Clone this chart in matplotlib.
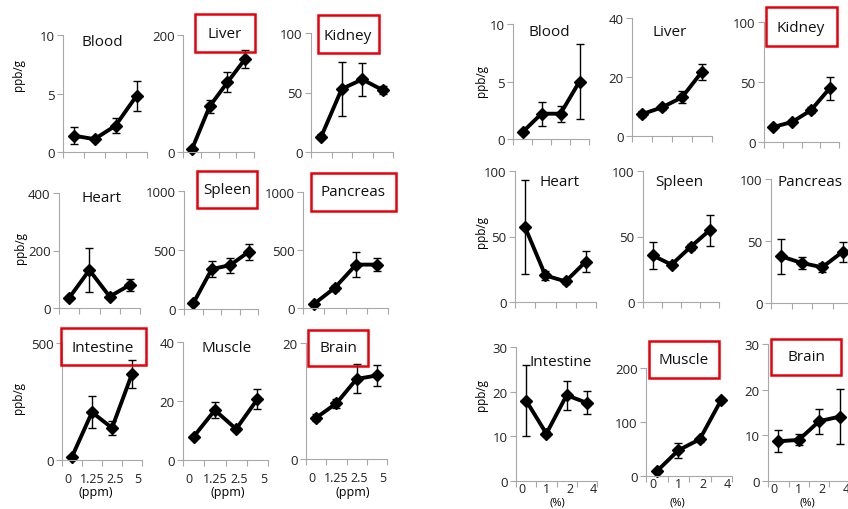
import matplotlib.pyplot as plt
from matplotlib.patches import Rectangle

plt.rcParams['font.family'] = ['Open Sans', 'DejaVu Sans']

W, H = 848, 510

organs = ['Blood', 'Liver', 'Kidney', 'Heart', 'Spleen', 'Pancreas', 'Intestine', 'Muscle', 'Brain']
ppm_labels = ['0', '1.25', '2.5', '5']
pct_labels = ['0', '1', '2', '4']

# left set (ppm)
ppm_mean = [[1.4, 1.1, 2.25, 4.8], [4.5, 78, 119, 159], [13, 53, 61, 52],
            [35, 132, 40, 80], [48, 338, 372, 485], [32, 175, 374, 374],
            [14, 204, 137, 368], [7.9, 16.9, 10.5, 20.6], [7.1, 9.6, 13.8, 14.4]]
ppm_err = [[0.7, 0.15, 0.65, 1.3], [2, 11, 17, 15], [2, 23, 14, 3.5],
           [8, 75, 6, 22], [10, 65, 63, 66], [8, 25, 110, 58],
           [3, 68, 30, 60], [0.5, 2.6, 0.8, 3.4], [0.6, 0.8, 2.5, 1.8]]
ppm_yticks = [[0, 5, 10], [0, 200], [0, 50, 100], [0, 200, 400], [0, 500, 1000],
              [0, 500, 1000], [0, 500], [0, 20, 40], [0, 20]]

# right set (%)
pct_mean = [[0.6, 2.2, 2.2, 5.0], [7.4, 9.7, 13.1, 21.8], [12.5, 16.7, 26.4, 44.7],
            [57, 20.3, 15.7, 30.9], [35.6, 28.5, 42, 54.7], [37.6, 32.3, 28.8, 41.4],
            [18, 10.6, 19.2, 17.5], [8.6, 47.5, 68, 141], [8.7, 9.0, 13.1, 14.1]]
pct_err = [[0.2, 1.05, 0.7, 3.3], [1, 0.8, 2, 2.7], [2, 1.5, 2.5, 9.7],
           [36, 3.4, 2, 8], [10.5, 2, 2.5, 12], [14, 4.5, 3.5, 8],
           [8, 0.5, 3.2, 2.6], [2, 14, 5, 3], [2.4, 1.2, 2.7, 6]]
pct_yticks = [[0, 5, 10], [0, 20, 40], [0, 50, 100], [0, 50, 100], [0, 50, 100],
              [0, 50, 100], [0, 10, 20, 30], [0, 100, 200], [0, 10, 20, 30]]

# panel boxes in pixels: x0, x1, y of top tick, y of zero
ppm_boxes = [(63, 147, 36, 153), (183, 254, 36, 153), (311, 393, 34, 153),
             (59, 140, 194, 309), (184, 258, 192, 310), (303, 388, 193, 309),
             (62, 142, 344, 461), (183, 268, 343, 461), (306, 387, 344, 460)]
pct_boxes = [(513, 589, 25, 140), (632, 712, 19, 137), (764, 839, 23, 143),
             (515, 596, 172, 303), (643, 719, 172, 303), (771, 853, 180, 304),
             (516, 597, 348, 482), (646, 732, 369, 477), (768, 850, 345, 482)]

# x label spots (in category units) - spread a bit like the original
label_pos = [-0.2, 1.0, 2.15, 3.3]

# title centres (pixels)
ppm_title_xy = [(102, 42), (225, 35), (348, 36), (102, 199), (227, 191), (353, 193),
                (103, 348), (227, 349), (338, 349)]
pct_title_xy = [(549, 32), (670, 32), (801, 28), (560, 183), (679, 183), (810, 183),
                (561, 362), (684, 361), (806, 358)]
ppm_red = {1: (195, 15, 255, 53), 2: (318, 16, 379, 54), 4: (197, 172, 257, 209),
           5: (311, 174, 396, 212), 6: (61, 329, 146, 366), 8: (308, 331, 368, 367)}
pct_red = {2: (766, 8, 837, 47), 7: (649, 342, 719, 379), 8: (771, 340, 841, 376)}

fig = plt.figure(figsize=(W / 100, H / 100), dpi=100)


def px_rect(x0, x1, ytop, ybot):
    return [x0 / W, 1 - ybot / H, (x1 - x0) / W, (ybot - ytop) / H]


def draw_panel(box, mean, err, yticks, xlabels, pad):
    ax = fig.add_axes(px_rect(*box))
    ax.errorbar(range(4), mean, yerr=err, color='black', lw=2.8, marker='D', ms=6.5,
                ecolor='black', elinewidth=1, capsize=3, capthick=1, clip_on=False)
    ax.set_xlim(-0.5, 3.5)
    ax.set_ylim(0, yticks[-1])
    ax.set_yticks(yticks)
    ax.set_xticks([-0.5, 0.5, 1.5, 2.5, 3.5])
    ax.set_xticklabels([])
    for s in ['top', 'right']:
        ax.spines[s].set_visible(False)
    for s in ['left', 'bottom']:
        ax.spines[s].set_color('#a8a8a8')
    ax.tick_params(colors='#a8a8a8', labelcolor='#222222', length=4, labelsize=9.5)
    ax.tick_params(axis='y', pad=2)
    if xlabels:
        ax.set_xticks(label_pos, minor=True)
        ax.set_xticklabels(xlabels, minor=True)
        ax.tick_params(axis='x', which='minor', length=0, pad=pad, labelsize=9,
                       labelcolor='#222222')
    ax.patch.set_alpha(0)
    return ax


for i in range(9):
    xl = ppm_labels if i >= 6 else None
    draw_panel(ppm_boxes[i], ppm_mean[i], ppm_err[i], ppm_yticks[i], xl, 9)
    xl = pct_labels if i >= 6 else None
    draw_panel(pct_boxes[i], pct_mean[i], pct_err[i], pct_yticks[i], xl, 1)

for xy in [ppm_title_xy, pct_title_xy]:
    for n, (x, y) in zip(organs, xy):
        fig.text(x / W, 1 - y / H, n, ha='center', va='center', fontsize=11, color='#111111')

for reds in [ppm_red, pct_red]:
    for k, (x0, y0, x1, y1) in reds.items():
        fig.patches.append(Rectangle((x0 / W, 1 - y1 / H), (x1 - x0) / W, (y1 - y0) / H,
                                     transform=fig.transFigure, fill=False,
                                     edgecolor='#e8000b', lw=1.8))

for x, y in [(18, 75), (20, 248), (18, 398), (481, 81), (481, 232), (481, 395)]:
    fig.text(x / W, 1 - y / H, 'ppb/g', rotation=90, ha='center', va='center', fontsize=8.5)

for x in [96, 228, 353]:
    fig.text(x / W, 1 - 493 / H, '(ppm)', ha='center', va='center', fontsize=9)
for x in [557, 677, 807]:
    fig.text(x / W, 1 - 509 / H, '(%)', ha='center', va='bottom', fontsize=8)

fig.savefig('out.png', dpi=100)
plt.close()
